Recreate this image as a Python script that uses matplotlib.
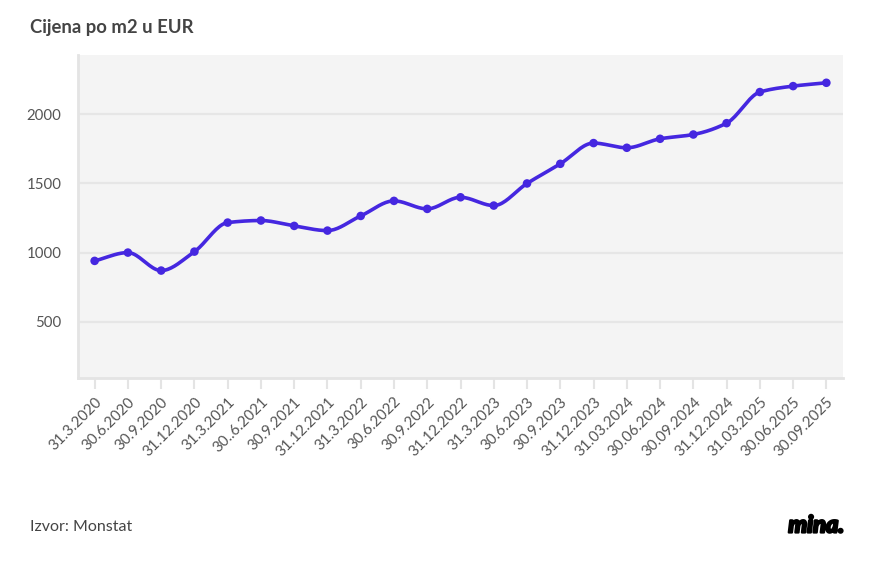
import numpy as np
import matplotlib.pyplot as plt
import matplotlib.patheffects as pe

'''chart data'''
dates = ['31.3.2020', '30.6.2020', '30.9.2020', '31.12.2020',
         '31.3.2021', '30..6.2021', '30.9.2021', '31.12.2021',
         '31.3.2022', '30.6.2022', '30.9.2022', '31.12.2022',
         '31.3.2023', '30.6.2023', '30.9.2023', '31.12.2023',
         '31.03.2024', '30.06.2024', '30.09.2024', '31.12.2024',
         '31.03.2025', '30.06.2025', '30.09.2025']
price = [940, 1000, 870, 1007, 1217, 1232, 1193, 1159, 1265, 1374, 1316, 1400,
         1340, 1500, 1642, 1792, 1758, 1823, 1854, 1936, 2161, 2204, 2228]
yticks = [500, 1000, 1500, 2000]

line_color = '#4527e0'
text_color = '#555555'


def monotone_curve(x, y, n=20):
    # Fritsch-Carlson monotone cubic, only for drawing a smooth line
    x = np.asarray(x, float)
    y = np.asarray(y, float)
    h = np.diff(x)
    d = np.diff(y) / h
    m = np.zeros_like(y)
    m[0], m[-1] = d[0], d[-1]
    for k in range(1, len(y) - 1):
        if d[k - 1] * d[k] <= 0:
            m[k] = 0
        else:
            w1 = 2 * h[k] + h[k - 1]
            w2 = h[k] + 2 * h[k - 1]
            m[k] = (w1 + w2) / (w1 / d[k - 1] + w2 / d[k])
    xs, ys = [], []
    for k in range(len(x) - 1):
        t = np.linspace(0, 1, n, endpoint=False)
        h00 = 2 * t**3 - 3 * t**2 + 1
        h10 = t**3 - 2 * t**2 + t
        h01 = -2 * t**3 + 3 * t**2
        h11 = t**3 - t**2
        xs.append(x[k] + t * h[k])
        ys.append(h00 * y[k] + h10 * h[k] * m[k] + h01 * y[k + 1] + h11 * h[k] * m[k + 1])
    xs.append([x[-1]])
    ys.append([y[-1]])
    return np.concatenate(xs), np.concatenate(ys)


plt.rcParams['font.family'] = ['Lato', 'DejaVu Sans']

fig = plt.figure(figsize=(8.96, 5.82), dpi=100)
ax = fig.add_axes([78 / 896, 1 - 378 / 582, (843 - 78) / 896, (378 - 55) / 582])
ax.set_facecolor('#f4f4f4')

xpos = np.arange(len(dates))
cx, cy = monotone_curve(xpos, price)
ax.plot(cx, cy, color=line_color, lw=2.6, solid_capstyle='round', zorder=3)
ax.scatter(xpos, price, s=38, color=line_color, zorder=4, edgecolors='none')

ax.set_xlim(-0.5, len(dates) - 0.5)
ax.set_ylim(93, 2429)
ax.set_yticks(yticks)
ax.set_yticklabels([str(v) for v in yticks])
ax.grid(axis='y', color='#e6e6e6', lw=1.6)
ax.set_axisbelow(True)

ax.set_xticks(xpos)
ax.set_xticklabels(dates, rotation=45, ha='right', rotation_mode='anchor')

for s in ['top', 'right']:
    ax.spines[s].set_visible(False)
for s in ['left', 'bottom']:
    ax.spines[s].set_color('#e4e4e4')
    ax.spines[s].set_linewidth(2)

ax.tick_params(axis='x', length=8, width=1.5, color='#e4e4e4', labelsize=10.8,
               labelcolor=text_color, pad=4)
ax.tick_params(axis='y', length=0, labelsize=10.8, labelcolor=text_color, pad=12)

fig.text(30 / 896, 1 - 27 / 582, 'Cijena po m2 u EUR', fontsize=13.3, fontweight='bold',
         color='#444444', va='center', ha='left')
fig.text(30 / 896, 1 - 527 / 582, 'Izvor: Monstat', fontsize=11.5, color='#444444',
         va='center', ha='left')
fig.text(844 / 896, 1 - 525 / 582, 'mina.', fontsize=17, fontweight='black', style='italic',
         color='black', va='center', ha='right',
         path_effects=[pe.withStroke(linewidth=1.6, foreground='black')])

fig.savefig('out.png', dpi=100)
